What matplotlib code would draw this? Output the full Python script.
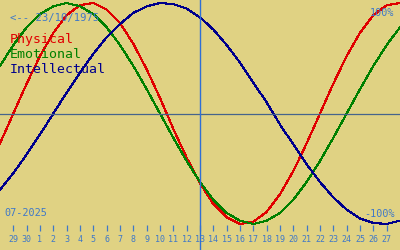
import matplotlib
matplotlib.use("Agg")
import matplotlib.pyplot as plt
import numpy as np

BIRTH = "<-- 23/10/1975"
MONTH = "07-2025"
TODAY = 13

# day of month for each sample, 28 June .. 28 July
days = [28, 29, 30, 1, 2, 3, 4, 5, 6, 7, 8, 9, 10, 11, 12, 13,
        14, 15, 16, 17, 18, 19, 20, 21, 22, 23, 24, 25, 26, 27, 28]

# cycle values (-1 .. 1), one per day
physical = [-0.27, 0.00, 0.27, 0.52, 0.73, 0.89, 0.98, 1.00, 0.94, 0.82,
            0.63, 0.40, 0.14, -0.14, -0.40, -0.63, -0.82, -0.94, -1.00, -0.98,
            -0.89, -0.73, -0.52, -0.27, 0.00, 0.27, 0.52, 0.73, 0.89, 0.98, 1.00]
emotional = [0.43, 0.62, 0.78, 0.90, 0.97, 1.00, 0.97, 0.90, 0.78, 0.62,
             0.43, 0.22, 0.00, -0.22, -0.43, -0.62, -0.78, -0.90, -0.97, -1.00,
             -0.97, -0.90, -0.78, -0.62, -0.43, -0.22, 0.00, 0.22, 0.43, 0.62, 0.78]
intellectual = [-0.69, -0.54, -0.37, -0.19, 0.00, 0.19, 0.37, 0.54, 0.69, 0.81,
                0.91, 0.97, 1.00, 0.99, 0.95, 0.87, 0.76, 0.62, 0.46, 0.28,
                0.10, -0.10, -0.28, -0.46, -0.62, -0.76, -0.87, -0.95, -0.99, -1.00, -0.97]

series = [("Physical", physical, "#e00000"),
          ("Emotional", emotional, "#008000"),
          ("Intellectual", intellectual, "#00008c")]

BG = "#e0d283"
TXT = "#3f78c8"
MONO = "DejaVu Sans Mono"

W, H = 400, 250


def px(x, y):
    """pixel position (from top-left) -> axes fraction"""
    return x / W, 1 - y / H


fig = plt.figure(figsize=(4, 2.5), dpi=100, facecolor=BG)
ax = fig.add_axes([0, 0, 1, 1], facecolor=BG)

x = np.arange(len(days))
for name, vals, col in series:
    ax.plot(x, vals, color=col, lw=0.8, antialiased=False)

# pixel row 113.5 is zero, 110.5 px per unit
ax.set_xlim(0, len(days) - 1)
ax.set_ylim((113.5 - H) / 110.5, 113.5 / 110.5)

ax.axhline(0, color="#46648c", lw=0.9)
ax.axvline(days.index(TODAY), color="#2f6fd6", lw=1.0)

for s in ["top", "left", "right"]:
    ax.spines[s].set_visible(False)
ax.spines["bottom"].set_position(("axes", 0.1))
ax.spines["bottom"].set_visible(False)
ax.set_yticks([])
ax.set_xticks(x[1:-1])
ax.set_xticklabels([str(d) for d in days[1:-1]], family=MONO, fontsize=6, color=TXT)
ax.tick_params(axis="x", direction="out", length=4.3, width=0.9, color=TXT, pad=2.6)

ax.text(*px(10, 20.5), BIRTH, transform=ax.transAxes, family=MONO,
        fontsize=7.6, color=TXT, va="baseline", ha="left")
for i, (name, vals, col) in enumerate(series):
    ax.text(*px(9.5, 43 + 14.8 * i), name, transform=ax.transAxes, family=MONO,
            fontsize=9.5, color=col, va="baseline", ha="left")

ax.text(*px(394, 16), "100%", transform=ax.transAxes, family=MONO,
        fontsize=7.3, color=TXT, va="baseline", ha="right")
ax.text(*px(395, 217), "-100%", transform=ax.transAxes, family=MONO,
        fontsize=7.3, color=TXT, va="baseline", ha="right")
ax.text(*px(4.5, 216), MONTH, transform=ax.transAxes, family=MONO,
        fontsize=7.3, color=TXT, va="baseline", ha="left")

fig.savefig("out.png", dpi=100, facecolor=BG)
